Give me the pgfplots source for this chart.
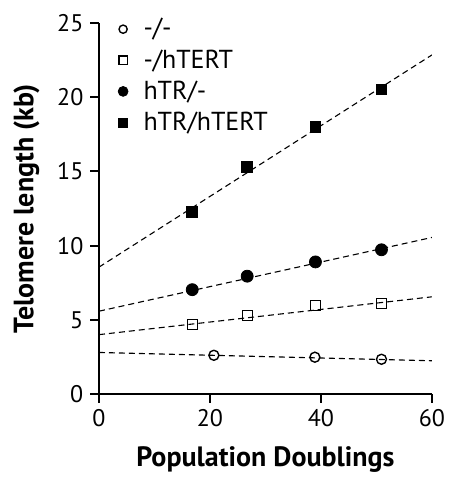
\documentclass[border=0pt]{standalone}
\usepackage{fontspec}
\setmainfont{PT Sans}
\usepackage{pgfplots}
\pgfplotsset{compat=1.18}

\pgfplotstableread{
x y
20.7 2.61
38.9 2.48
50.9 2.34
}\wtwt
\pgfplotstableread{
x y
16.8 4.67
26.8 5.30
39.0 5.95
50.9 6.10
}\wthtert
\pgfplotstableread{
x y
16.8 7.03
26.7 7.94
39.0 8.90
50.9 9.72
}\htrwt
\pgfplotstableread{
x y
16.8 12.25
26.7 15.33
39.0 18.02
50.9 20.52
}\htrhtert

\tikzset{fitline/.style={black, line width=0.55pt, dash pattern=on 3pt off 2pt}}

\begin{document}
\begin{tikzpicture}
\useasboundingbox (-49.5pt,-42.5pt) rectangle (176.5pt,197pt);
\begin{axis}[
  at={(0pt,0pt)}, anchor=origin,
  scale only axis, width=166.5pt, height=185.5pt,
  xmin=0, xmax=60, ymin=0, ymax=25,
  axis lines*=left,
  axis line style={line width=1pt},
  xtick={0,20,40,60}, ytick={0,5,...,25},
  tick align=outside, major tick length=4.3pt,
  tick style={line width=1pt, black},
  tick label style={font=\fontsize{12}{14}\selectfont},
  /pgf/number format/assume math mode=true,
  xlabel={\bfseries Population Doublings},
  ylabel={\bfseries Telomere length (kb)},
  label style={font=\fontsize{14}{16}\selectfont},
  xlabel style={yshift=-3pt},
  ylabel style={yshift=2pt},
  legend style={draw=none, fill=none, at={(0.025,1.035)}, anchor=north west,
    font=\fontsize{13}{15}\selectfont, row sep=0.8pt},
  legend image code/.code={\draw[#1, every mark/.append style={scale=0.82}] plot coordinates {(1.5pt,0pt)}; \path (-3pt,0pt) (9.5pt,0pt);},
  legend cell align=left,
]
\addplot[fitline, forget plot] coordinates {(0,2.80) (60,2.24)};
\addplot[fitline, forget plot] coordinates {(0,4.00) (60,6.55)};
\addplot[fitline, forget plot] coordinates {(0,5.58) (60,10.55)};
\addplot[fitline, forget plot] coordinates {(0,8.55) (60,22.85)};
\addplot[only marks, mark=o, mark size=2.5pt, mark options={fill=white, line width=0.7pt}] table {\wtwt};
\addplot[only marks, mark=square, mark size=2.5pt, mark options={fill=white, line width=0.7pt}] table {\wthtert};
\addplot[only marks, mark=*, mark size=3pt, black] table {\htrwt};
\addplot[only marks, mark=square*, mark size=2.7pt, black] table {\htrhtert};
\legend{-/-, -/hTERT, hTR/-, hTR/hTERT}
\end{axis}
\end{tikzpicture}
\end{document}
